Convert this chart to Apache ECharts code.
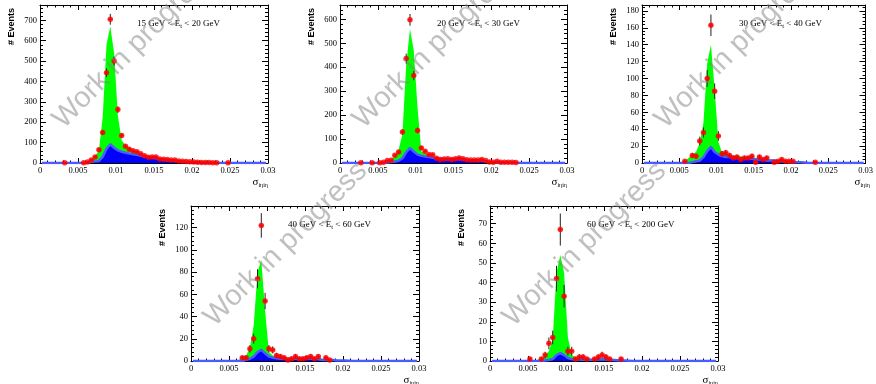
<!DOCTYPE html>
<html><head><meta charset="utf-8">
<script src="https://cdn.jsdelivr.net/npm/echarts@6/dist/echarts.min.js"></script>
<style>html,body{margin:0;padding:0;background:#fff}#c{width:876px;height:384px}</style>
</head><body><div id="c"></div>
<script>
// ---- data ----
const binCenters = [0.00025,0.00075,0.00125,0.00175,0.00225,0.00275,0.00325,0.00375,0.00425,0.00475,
 0.00525,0.00575,0.00625,0.00675,0.00725,0.00775,0.00825,0.00875,0.00925,0.00975,
 0.01025,0.01075,0.01125,0.01175,0.01225,0.01275,0.01325,0.01375,0.01425,0.01475,
 0.01525,0.01575,0.01625,0.01675,0.01725,0.01775,0.01825,0.01875,0.01925,0.01975,
 0.02025,0.02075,0.02125,0.02175,0.02225,0.02275,0.02325,0.02375,0.02425,0.02475,
 0.02525,0.02575,0.02625,0.02675,0.02725,0.02775,0.02825,0.02875,0.02925,0.02975];

const titles = [
 ['15 GeV < E','t',' < 20 GeV'],
 ['20 GeV < E','t',' < 30 GeV'],
 ['30 GeV < E','t',' < 40 GeV'],
 ['40 GeV < E','t',' < 60 GeV'],
 ['60 GeV < E','t',' < 200 GeV']
];
const yMax = [775, 660, 187, 139.5, 79];
const yInterval = [100, 100, 20, 20, 10];

// total (signal + background) MC
const green1 = [0,0,0,0,0,0,0,0,0,0, 1,3,8,18,35,60,225,580,670,540, 230,110,88,73,63,55,47,40,34,30, 26,22,19,16,14,12,10,8,7,6, 5,4,3,2,2,1,1,0.5,0.5,0.5, 0,0,0,0,0,0,0,0,0,0];
const blue1  = [0,0,0,0,0,0,0,0,0,0, 0,0,2,5,8,10,30,70,92,75, 62,55,50,46,43,40,36,32,29,26, 23,20,17,15,13,11,9,7,6,5, 4,3,2,2,1,1,0.5,0,0,0, 0,0,0,0,0,0,0,0,0,0];
const green2 = [0,0,0,0,0,0,0,0,0,0, 0,1,3,15,32,55,120,410,560,470, 230,48,42,36,30,22,18,16,16,16, 17,18,17,15,14,13,12,11,9,6, 4,3,3,2,2,1,1,0.5,0,0, 0,0,0,0,0,0,0,0,0,0];
const blue2  = [0,0,0,0,0,0,0,0,0,0, 0,0,2,4,6,10,20,45,62,48, 35,30,27,25,22,20,18,17,16,16, 16,17,15,13,12,11,10,9,7,5, 3,2,2,1,1,0.5,0,0,0,0, 0,0,0,0,0,0,0,0,0,0];
const green3 = [0,0,0,0,0,0,0,0,0,0, 0,2,6,10,13,24,48,118,140,88, 25,12,11,10,9,8,8,7,7,7, 6,6,5,5,4,4,3,3,2,2, 2,1,1,1,0.5,0,0,0,0,0, 0,0,0,0,0,0,0,0,0,0];
const blue3  = [0,0,0,0,0,0,0,0,0,0, 0,0,0,1,2,3,7,14,19,13, 10,8,7,7,6,6,5,5,5,5, 4,4,4,3,3,3,2,2,2,1, 1,1,1,0.5,0,0,0,0,0,0, 0,0,0,0,0,0,0,0,0,0];
const green4 = [0,0,0,0,0,0,0,0,0,0, 0,0,1,3,5,12,32,80,91,45, 8,5,4,3.5,3,3,3,3,3,3, 3,3,3,2.5,2,2,2,1.5,1,1, 1,0.5,0,0,0,0,0,0,0,0, 0,0,0,0,0,0,0,0,0,0];
const blue4  = [0,0,0,0,0,0,0,0,0,0, 0,0,0,0,1,2,4,8,10,7, 4,3,2.5,2,2,2,2,2,2,2, 2,2,2,1.5,1,1,1,1,0.5,0.5, 0.5,0.3,0,0,0,0,0,0,0,0, 0,0,0,0,0,0,0,0,0,0];
const green5 = [0,0,0,0,0,0,0,0,0,0, 0,0,0.5,1.5,3,5,11,45,54,45, 12,3,2,1.5,1.2,1,1,1.2,1.3,1.3, 1.2,1,0.8,0.6,0.5,0.4,0.3,0.2,0,0, 0,0,0,0,0,0,0,0,0,0, 0,0,0,0,0,0,0,0,0,0];
const blue5  = [0,0,0,0,0,0,0,0,0,0, 0,0,0,0,0.3,0.5,1,3,4,3, 1.5,1,0.8,0.7,0.6,0.6,0.6,0.7,0.8,0.8, 0.7,0.6,0.5,0.4,0.3,0.2,0.1,0,0,0, 0,0,0,0,0,0,0,0,0,0, 0,0,0,0,0,0,0,0,0,0];

// observed data
const dataX1 = [0.00325,0.00575,0.00625,0.00675,0.00725,0.00775,0.00825,0.00875,0.00925,0.00975,0.01025,0.01075,0.01125,0.01175,0.01225,0.01275,0.01325,0.01375,0.01425,0.01475,0.01525,0.01575,0.01625,0.01675,0.01725,0.01775,0.01825,0.01875,0.01925,0.01975,0.02025,0.02075,0.02125,0.02175,0.02225,0.02275,0.02325,0.02475];
const dataY1 = [1,1,5,15,30,65,150,443,705,500,262,135,82,68,60,55,45,35,28,30,30,20,18,17,15,15,10,8,7,6,5,4,3,2,2,1,1,1];
const dataX2 = [0.00275,0.00425,0.00525,0.00575,0.00625,0.00675,0.00725,0.00775,0.00825,0.00875,0.00925,0.00975,0.01025,0.01075,0.01125,0.01175,0.01225,0.01275,0.01325,0.01375,0.01425,0.01475,0.01525,0.01575,0.01625,0.01675,0.01725,0.01775,0.01825,0.01875,0.01925,0.01975,0.02025,0.02075,0.02125,0.02175,0.02225,0.02275,0.02325];
const dataY2 = [1,1,1,3,10,11,32,46,130,436,598,365,136,63,49,35,34,20,15,17,18,15,18,21,18,14,13,13,13,15,10,4,3,7,3,3,3,3,2];
const dataX3 = [0.00575,0.00675,0.00725,0.00775,0.00825,0.00875,0.00925,0.00975,0.01025,0.01075,0.01125,0.01175,0.01225,0.01275,0.01325,0.01375,0.01425,0.01475,0.01525,0.01575,0.01625,0.01675,0.01775,0.01825,0.01875,0.01925,0.01975,0.02025,0.02325];
const dataY3 = [2,9,8,26,36,100,163,85,32,11,12,9,6,7,4,6,6,8,1,7,4,6,1,2,4,2,2,2,1];
const dataX4 = [0.00675,0.00725,0.00775,0.00825,0.00875,0.00925,0.00975,0.01025,0.01075,0.01125,0.01175,0.01225,0.01275,0.01325,0.01375,0.01425,0.01475,0.01525,0.01575,0.01625,0.01675,0.01775,0.01825];
const dataY4 = [3,3,11,20,74,122,54,11,10,5,4,3,1,2,4,2,2,3,4,2,4,3,1];
const dataX5 = [0.00525,0.00675,0.00725,0.00775,0.00825,0.00875,0.00925,0.00975,0.01025,0.01075,0.01125,0.01175,0.01225,0.01275,0.01375,0.01425,0.01475,0.01525,0.01575,0.01725];
const dataY5 = [1,1,3,9,12,42,67,33,5,5,1,2,2,1,1,2,3,2,1,1];

const greens = [green1, green2, green3, green4, green5];
const blues = [blue1, blue2, blue3, blue4, blue5];
const dataXs = [dataX1, dataX2, dataX3, dataX4, dataX5];
const dataYs = [dataY1, dataY2, dataY3, dataY4, dataY5];
const binHalfWidth = 0.00025;

// ---- layout ----
const layouts = [
 {left:40, top:5, width:228, height:158},
 {left:340, top:5, width:227, height:158},
 {left:642, top:5, width:228, height:158},
 {left:191, top:206, width:228, height:155},
 {left:490, top:206, width:228, height:155}
];
const SERIF = 'Liberation Serif';
const SANS = 'Liberation Sans';

const grids = [], xAxes = [], yAxes = [], series = [], graphics = [];

function xAx(i, top) {
  return {type:'value', gridIndex:i, min:0, max:0.03, interval:0.005, position: top ? 'top' : 'bottom',
    axisLine:{show:true, onZero:false, lineStyle:{color:'#000', width:1}},
    axisTick:{show:true, inside:true, length:5, lineStyle:{color:'#000', width:1}},
    minorTick:{show:true, splitNumber:5, length:2.5, lineStyle:{color:'#000', width:1}},
    axisLabel:{show:!top, color:'#000', fontFamily:SERIF, fontSize:8.5, margin:3},
    splitLine:{show:false}, minorSplitLine:{show:false}};
}
function yAx(i, right) {
  return {type:'value', gridIndex:i, min:0, max:yMax[i], interval:yInterval[i], position: right ? 'right' : 'left',
    axisLine:{show:true, onZero:false, lineStyle:{color:'#000', width:1}},
    axisTick:{show:true, inside:true, length:6, lineStyle:{color:'#000', width:1}},
    minorTick:{show:true, splitNumber:5, length:3, lineStyle:{color:'#000', width:1}},
    axisLabel:{show:!right, color:'#000', fontFamily:SERIF, fontSize:8.5, margin:3, showMaxLabel:false},
    splitLine:{show:false}, minorSplitLine:{show:false}};
}

layouts.forEach((l, i) => {
  grids.push({left:l.left, top:l.top, width:l.width, height:l.height, show:false});
  xAxes.push(xAx(i, false), xAx(i, true));
  yAxes.push(yAx(i, false), yAx(i, true));
  const xi = 2*i, yi = 2*i;
  series.push({type:'line', xAxisIndex:xi, yAxisIndex:yi, data: binCenters.map((x,k)=>[x, greens[i][k]]),
    symbol:'none', silent:true, lineStyle:{width:0, color:'#00ff00'}, areaStyle:{color:'#00ff00', opacity:1}, z:2});
  series.push({type:'line', xAxisIndex:xi, yAxisIndex:yi, data: binCenters.map((x,k)=>[x, blues[i][k]]),
    symbol:'none', silent:true, lineStyle:{width:2.5, color:'#4a5cff'}, areaStyle:{color:'#0000ff', opacity:1}, z:3});
  series.push({type:'custom', xAxisIndex:xi, yAxisIndex:yi, z:4, silent:true,
    data: dataXs[i].map((x,k)=>[x, dataYs[i][k]]),
    renderItem: (params, api) => {
      const x = api.value(0), y = api.value(1), e = Math.sqrt(y);
      const t = api.coord([x, y+e]), b = api.coord([x, Math.max(0, y-e)]);
      const lft = api.coord([x-binHalfWidth, y]), rgt = api.coord([x+binHalfWidth, y]);
      return {type:'group', children:[
        {type:'line', shape:{x1:t[0], y1:t[1], x2:b[0], y2:b[1]}, style:{stroke:'#222', lineWidth:1}},
        {type:'line', shape:{x1:lft[0], y1:lft[1], x2:rgt[0], y2:rgt[1]}, style:{stroke:'#ff0000', lineWidth:1.5}}
      ]};
    }});
  series.push({type:'scatter', xAxisIndex:xi, yAxisIndex:yi, z:5, silent:true,
    data: dataXs[i].map((x,k)=>[x, dataYs[i][k]]),
    symbol:'circle', symbolSize:5.5, itemStyle:{color:'#ff0000'}});

  // texts
  const t = titles[i];
  graphics.push({type:'text', x:l.left+97, y:l.top+19, z:50,
    style:{text:'{a|'+t[0]+'}{b|'+t[1]+'}{a|'+t[2]+'}', verticalAlign:'middle', align:'left',
      rich:{a:{fontFamily:SERIF, fontSize:9, lineHeight:12, fill:'#000'},
            b:{fontFamily:SERIF, fontSize:6.5, verticalAlign:'bottom', fill:'#000'}}}});
  graphics.push({type:'text', x:l.left-28, y:l.top+3, rotation:Math.PI/2, z:50,
    style:{text:'# Events', fontFamily:SANS, fontWeight:'bold', fontSize:9, fill:'#000', align:'right', verticalAlign:'middle'}});
  graphics.push({type:'text', x:l.left+l.width, y:l.top+l.height+19, z:50,
    style:{text:'{s|σ}{u|iηiη}', align:'right', verticalAlign:'middle',
      rich:{s:{fontFamily:SERIF, fontSize:11, lineHeight:13, fill:'#000'},
            u:{fontFamily:SERIF, fontSize:6, verticalAlign:'bottom', fill:'#000'}}}});
  graphics.push({type:'text', x:l.left+28, y:l.top+l.height-29, rotation:0.79, z:60,
    style:{text:'Work in progress', fontFamily:SANS, fontSize:29, fill:'rgba(130,130,130,0.5)', align:'left', verticalAlign:'bottom'}});
});

const chart = echarts.init(document.getElementById('c'), null, {renderer:'canvas'});
chart.setOption({animation:false, grid:grids, xAxis:xAxes, yAxis:yAxes, series:series, graphic:graphics});
</script>
</body></html>
